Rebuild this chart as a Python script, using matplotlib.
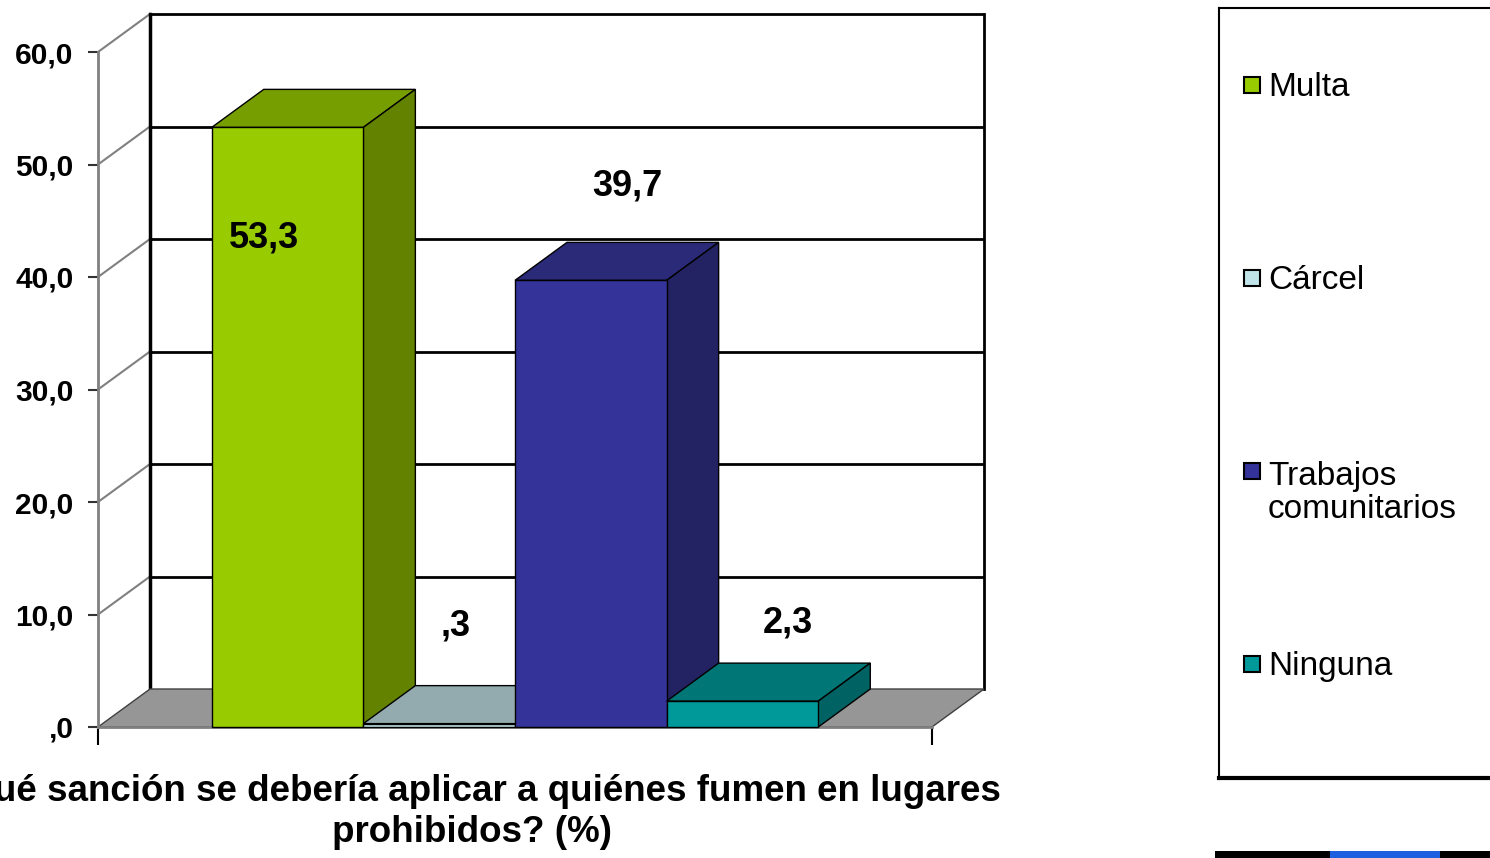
import matplotlib
matplotlib.use("Agg")
import matplotlib.pyplot as plt
from matplotlib.patches import Polygon, Rectangle

# ---------------- data ----------------
categories = ["Multa", "Cárcel", "Trabajos\ncomunitarios", "Ninguna"]
values = [53.3, 0.3, 39.7, 2.3]
value_labels = ["53,3", ",3", "39,7", "2,3"]
yticks = [0, 10, 20, 30, 40, 50, 60]
ytick_labels = [",0", "10,0", "20,0", "30,0", "40,0", "50,0", "60,0"]
title = "¿Qué sanción se debería aplicar a quiénes fumen en lugares\nprohibidos? (%)"

# ---------------- style ----------------
front_colors = ["#99CC00", "#C0E4E8", "#333399", "#009999"]
top_colors = ["#779E00", "#93ABAE", "#2A2A78", "#007676"]
side_colors = ["#628200", "#7F9597", "#232262", "#006262"]

plt.rcParams['font.family'] = ['Liberation Sans', 'DejaVu Sans']

W, H = 1490, 858
fig = plt.figure(figsize=(W / 100, H / 100), dpi=100)

# front plane of the 3D box in pixel layout
left_px, right_px, bottom_px, top_px = 98, 932, 727, 52
ax = fig.add_axes([left_px / W, 1 - bottom_px / H,
                   (right_px - left_px) / W, (bottom_px - top_px) / H])
ax.patch.set_alpha(0)
gap = 0.75
n = len(values)
xmax = n + 2 * gap
ymax = yticks[-1]
ax.set_xlim(0, xmax)
ax.set_ylim(0, ymax)

px_x = (right_px - left_px) / xmax
px_y = (bottom_px - top_px) / ymax
dx = 52 / px_x
dy = 38 / px_y

# spines / ticks
for s in ["top", "right"]:
    ax.spines[s].set_visible(False)
ax.spines["left"].set_color("#808080")
ax.spines["left"].set_linewidth(2)
ax.spines["bottom"].set_color("#808080")
ax.spines["bottom"].set_linewidth(2)
ax.set_yticks(yticks)
ax.set_yticklabels(ytick_labels, fontsize=21.5, fontweight="bold")
ax.tick_params(axis="y", length=7.5, width=1.5, color="#333333", pad=10)
ax.set_xticks([0, xmax])
ax.set_xticklabels(["", ""])
ax.tick_params(axis="x", length=13, width=1.5, color="black")

# back wall gridlines and left-wall diagonals
for v in yticks[1:]:
    ax.plot([dx, xmax + dx], [v + dy, v + dy], color="black", lw=2,
            clip_on=False, zorder=1, solid_capstyle="butt")
    ax.plot([0, dx], [v, v + dy], color="#808080", lw=1.5,
            clip_on=False, zorder=1)
ax.plot([dx, dx], [dy, ymax + dy], color="black", lw=2.5, clip_on=False, zorder=1)
ax.plot([xmax + dx, xmax + dx], [dy, ymax + dy], color="black", lw=2,
        clip_on=False, zorder=1)

# floor
ax.add_patch(Polygon([(0, 0), (xmax, 0), (xmax + dx, dy), (dx, dy)],
                     closed=True, fc="#969696", ec="#404040", lw=1,
                     clip_on=False, zorder=1.5))

# bars (left to right so nearer faces overlap correctly)
for i, v in enumerate(values):
    x0 = gap + i
    x1 = x0 + 1
    z = 3 + i
    top = Polygon([(x0, v), (x1, v), (x1 + dx, v + dy), (x0 + dx, v + dy)],
                  closed=True, fc=top_colors[i], ec="black", lw=1,
                  clip_on=False, zorder=z)
    side = Polygon([(x1, 0), (x1 + dx, dy), (x1 + dx, v + dy), (x1, v)],
                   closed=True, fc=side_colors[i], ec="black", lw=1,
                   clip_on=False, zorder=z)
    front = Rectangle((x0, 0), 1, v, fc=front_colors[i], ec="black", lw=1,
                      clip_on=False, zorder=z + 0.1)
    ax.add_patch(top)
    ax.add_patch(side)
    ax.add_patch(front)

# value labels (Excel 3D placement)
label_dx = [-0.155, 0.105, 0.24, 0.30]
label_dy = [-9.83, 8.68, 8.39, 6.94]
for i, v in enumerate(values):
    xc = gap + i + 0.5
    ax.text(xc + label_dx[i], v + label_dy[i], value_labels[i],
            ha="center", va="center", fontsize=26, fontweight="bold",
            zorder=20)

# axis title below (the reference shows it cut at the left edge)
fig.text(472 / W, 1 - 812 / H, title, ha="center", va="center",
         fontsize=26.5, fontweight="bold", linespacing=1.2)

# ---------------- legend (manual, figure pixel coords) ----------------
lax = fig.add_axes([0, 0, 1, 1])
lax.set_xlim(0, W)
lax.set_ylim(H, 0)
lax.axis("off")
lax.patch.set_alpha(0)
lax.plot([1219, 1219], [8, 779], color="black", lw=1.5)
lax.plot([1219, W], [8, 8], color="black", lw=1.5)
lax.plot([1219, W], [778, 778], color="black", lw=3)
leg_baselines = [96, 289, 482, 675]
leg_line_px = 36
for i, cat in enumerate(categories):
    yb = leg_baselines[i]
    nlines = cat.count("\n") + 1
    lax.add_patch(Rectangle((1244, yb - 19), 16, 16, fc=front_colors[i],
                            ec="black", lw=1.5))
    lax.text(1268, yb + (nlines - 1) * leg_line_px, cat, ha="left",
             va="baseline", fontsize=24, linespacing=1.08)

# screenshot strip at bottom right
lax.add_patch(Rectangle((1215, 851), W - 1215, 8, fc="black", ec="none"))
lax.add_patch(Rectangle((1330, 851), 110, 8, fc="#1E5FE0", ec="none"))

fig.savefig("out.png", dpi=100)
